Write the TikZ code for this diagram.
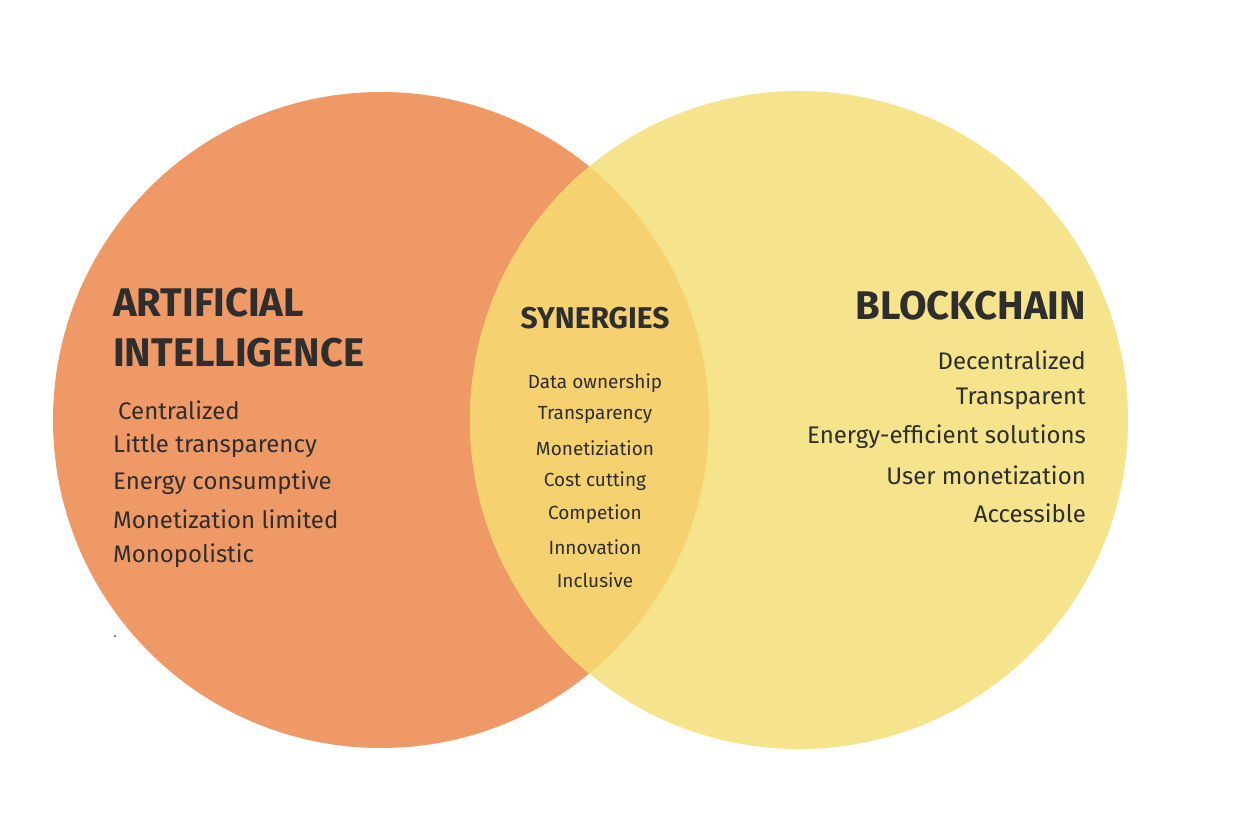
\documentclass[tikz,border=0pt]{standalone}
\usepackage{fontspec}
\setmainfont{Fira Sans}
\definecolor{orng}{HTML}{EF9A66}
\definecolor{yel}{HTML}{F6E48C}
\definecolor{ovl}{HTML}{F5D170}
\definecolor{ink}{HTML}{2E2E2E}
\begin{document}
\begin{tikzpicture}[x=1pt,y=-1pt,
  head/.style={font=\fontsize{40}{44}\selectfont\bfseries,text=ink,inner sep=0},
  item/.style={font=\fontsize{24}{28}\selectfont,text=ink,inner sep=0},
  syn/.style={font=\fontsize{19}{22}\selectfont,text=ink,inner sep=0}]
\useasboundingbox (0,0) rectangle (1248,838);
\fill[white] (0,0) rectangle (1248,838);
\fill[orng] (381,420) circle (328);
\fill[yel] (799,420) circle (329);
\begin{scope}
\clip (381,420) circle (328);
\fill[ovl] (799,420) circle (329);
\end{scope}
\node[head,anchor=west] (ai1) at (113,303) {ARTIFICIAL};
\node[head,anchor=west] (ai2) at (113,353) {INTELLIGENCE};
\node[item,anchor=west] (a1) at (118,410) {Centralized};
\node[item,anchor=west] (a2) at (113,446) {Little transparency};
\node[item,anchor=west] (a3) at (113,483) {Energy consumptive};
\node[item,anchor=west] (a4) at (113,519) {Monetization limited};
\node[item,anchor=west] (a5) at (113,556) {Monopolistic};
\fill[ink] (115,636) circle (1);
\node[font=\fontsize{30}{34}\selectfont\bfseries,text=ink,inner sep=0] (s) at (595,318) {SYNERGIES};
\node[syn] (s1) at (595,383) {Data ownership};
\node[syn] (s2) at (595,415) {Transparency};
\node[syn] (s3) at (595,448) {Monetiziation};
\node[syn] (s4) at (595,481) {Cost cutting};
\node[syn] (s5) at (595,514) {Competion};
\node[syn] (s6) at (595,547) {Innovation};
\node[syn] (s7) at (595,580) {Inclusive};
\node[head,anchor=east] (b) at (1086,306) {BLOCKCHAIN};
\node[item,anchor=east] (b1) at (1086,360) {Decentralized};
\node[item,anchor=east] (b2) at (1086,399) {Transparent};
\node[item,anchor=east] (b3) at (1086,437) {Energy-efficient solutions};
\node[item,anchor=east] (b4) at (1086,475) {User monetization};
\node[item,anchor=east] (b5) at (1086,513) {Accessible};
\end{tikzpicture}
\end{document}
